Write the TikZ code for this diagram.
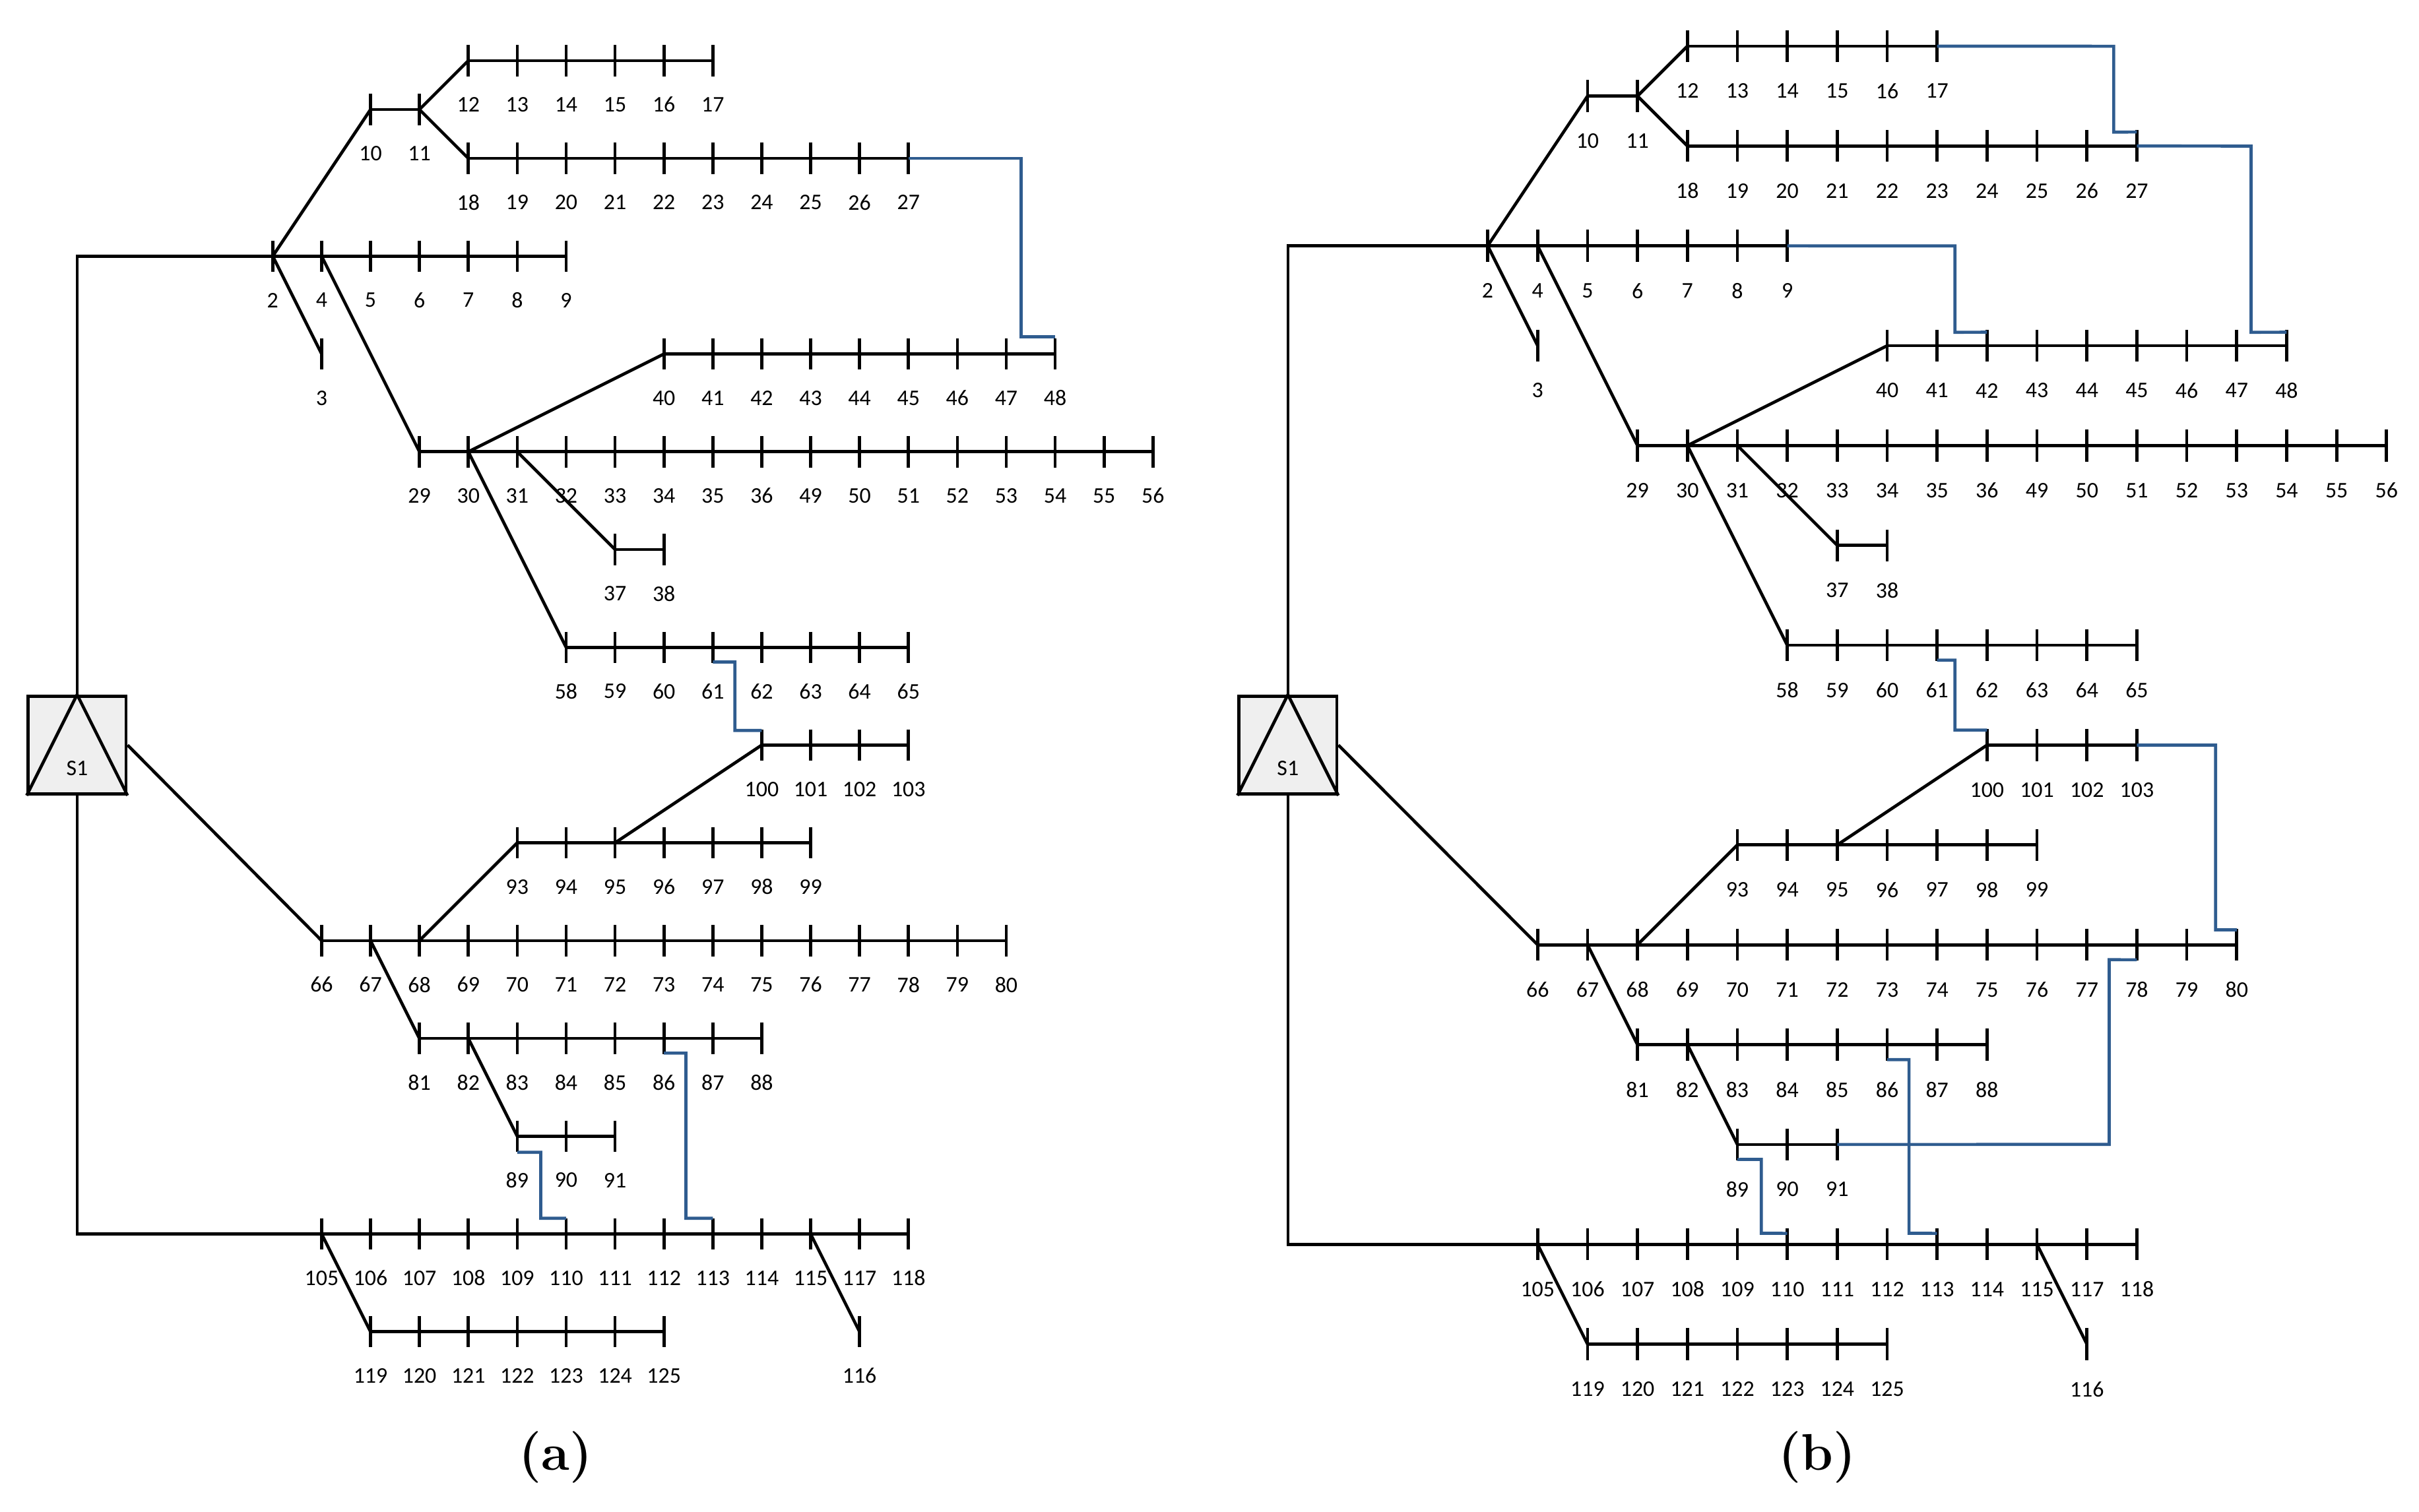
\documentclass[tikz,border=0pt]{standalone}
\usepackage{fontspec}
\usepackage{tikz}
\usetikzlibrary{calc}
\newfontfamily\busfont{Carlito}
\definecolor{tieblue}{HTML}{2F5C8F}
\definecolor{subfill}{HTML}{EFEFEF}

\tikzset{
  line/.style={line width=0.9pt, black},
  tie/.style={line width=0.9pt, color=tieblue},
  lbl/.style={font=\busfont\fontsize{6.5}{7}\selectfont, inner sep=0pt},
  sublbl/.style={font=\bfseries\fontsize{15}{17}\selectfont},
}

% one row of buses: prefix, labels, first column, height
\newcommand{\busrow}[4]{%
  \foreach \lab [count=\i from 0] in {#2} {
    \coordinate (#1\lab) at ({#3+\i},#4);
    \draw[line] ($(#1\lab)+(0,0.32)$) -- ($(#1\lab)+(0,-0.32)$);
    \node[lbl] at ($(#1\lab)+(0,-0.9)$) {\lab};
  }}

\newcommand{\drawfeeder}[1]{%
  \node[draw, line width=0.9pt, fill=subfill, minimum size=1cm, inner sep=0pt] (#1S1) at (0,0) {};
  \draw[line] (#1S1.north) -- (#1S1.south west) (#1S1.north) -- (#1S1.south east);
  \node[lbl] at (0,-0.47) {S1};
  \busrow{#1}{2,4,5,6,7,8,9}{4}{10}
  \busrow{#1}{3}{5}{8}
  \busrow{#1}{10,11}{6}{13}
  \busrow{#1}{12,13,14,15,16,17}{8}{14}
  \busrow{#1}{18,19,20,21,22,23,24,25,26,27}{8}{12}
  \busrow{#1}{29,30,31,32,33,34,35,36,49,50,51,52,53,54,55,56}{7}{6}
  \busrow{#1}{40,41,42,43,44,45,46,47,48}{12}{8}
  \busrow{#1}{37,38}{11}{4}
  \busrow{#1}{58,59,60,61,62,63,64,65}{10}{2}
  \busrow{#1}{100,101,102,103}{14}{0}
  \busrow{#1}{93,94,95,96,97,98,99}{9}{-2}
  \busrow{#1}{66,67,68,69,70,71,72,73,74,75,76,77,78,79,80}{5}{-4}
  \busrow{#1}{81,82,83,84,85,86,87,88}{7}{-6}
  \busrow{#1}{89,90,91}{9}{-8}
  \busrow{#1}{105,106,107,108,109,110,111,112,113,114,115,117,118}{5}{-10}
  \busrow{#1}{119,120,121,122,123,124,125}{6}{-12}
  \busrow{#1}{116}{16}{-12}
  % bus lines
  \draw[line] (#12) -- (#19) (#110) -- (#111) (#112) -- (#117) (#118) -- (#127)
    (#129) -- (#156) (#140) -- (#148) (#137) -- (#138) (#158) -- (#165)
    (#1100) -- (#1103) (#193) -- (#199) (#166) -- (#180) (#181) -- (#188)
    (#189) -- (#191) (#1105) -- (#1118) (#1119) -- (#1125);
  % branches
  \draw[line] (#1S1.north) |- (#12);
  \draw[line] (#1S1.south) |- (#1105);
  \draw[line] (#1S1.east) -- (#166);
  \draw[line] (#12) -- (#13) (#12) -- (#110) (#111) -- (#112) (#111) -- (#118)
    (#14) -- (#129) (#130) -- (#140) (#131) -- (#137) (#130) -- (#158)
    (#195) -- (#1100) (#168) -- (#193) (#167) -- (#181) (#182) -- (#189)
    (#1105) -- (#1119) (#1115) -- (#1116);
}

\begin{document}
\begin{tikzpicture}[x=0.5cm, y=0.5cm]
  \useasboundingbox (-1.577,-15.68) rectangle (47.89,15.24);
  % (a)
  \drawfeeder{a}
  \draw[tie] (a27) -- (19.3,12) -- (19.3,8.35) -- ($(a48)+(0,0.35)$);
  \draw[tie] ($(a61)+(0,-0.3)$) -- (13.45,1.7) -- (13.45,0.3) -- ($(a100)+(0,0.3)$);
  \draw[tie] ($(a89)+(0,-0.33)$) -- (9.48,-8.33) -- (9.48,-9.68) -- ($(a110)+(0,0.32)$);
  \draw[tie] ($(a86)+(0,-0.3)$) -- (12.45,-6.3) -- (12.45,-9.68) -- ($(a113)+(0,0.32)$);
  \node[sublbl] (capa) at (9.78,-14.57) {(a)};
  % (b)
  \begin{scope}[shift={(24.76,0)}, scale=1.021]
    \drawfeeder{b}
    \draw[tie] (b17) -- (16.54,14) -- (16.54,12.28) -- ($(b27)+(0,0.28)$);
    \draw[tie] (b27) -- (19.29,12) -- (19.29,8.27) -- ($(b48)+(0,0.27)$);
    \draw[tie] (b9) -- (13.36,10) -- (13.36,8.27) -- ($(b42)+(0,0.27)$);
    \draw[tie] ($(b61)+(0,-0.3)$) -- (13.36,1.7) -- (13.36,0.3) -- ($(b100)+(0,0.3)$);
    \draw[tie] (b103) -- (18.58,0) -- (18.58,-3.7) -- ($(b80)+(0,0.3)$);
    \draw[tie] (b91) -- (16.45,-8) -- (16.45,-4.3) -- ($(b78)+(0,-0.3)$);
    \draw[tie] ($(b89)+(0,-0.3)$) -- (9.48,-8.3) -- (9.48,-9.78) -- ($(b110)+(0,0.22)$);
    \draw[tie] ($(b86)+(0,-0.3)$) -- (12.44,-6.3) -- (12.44,-9.78) -- ($(b113)+(0,0.22)$);
  \end{scope}
  \node[sublbl] (capb) at (35.58,-14.57) {(b)};
\end{tikzpicture}
\end{document}
